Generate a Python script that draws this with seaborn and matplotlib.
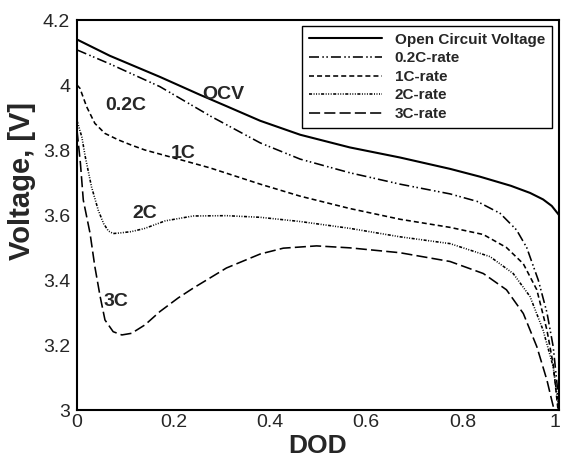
import numpy as np
import matplotlib
matplotlib.use('Agg')
import matplotlib.pyplot as plt
import matplotlib.transforms as mtransforms
from matplotlib.ticker import MultipleLocator
import seaborn as sns
import pandas as pd

sns.set_style('white')
plt.rcParams['font.family'] = ['Liberation Sans', 'DejaVu Sans']
plt.rcParams['lines.scale_dashes'] = False

# values
ocv_dod = [0, .068, .172, .255, .31, .38, .463, .566, .67, .774, .836, .9, .94, .967, .985, 1.0]
ocv_v = [4.14, 4.09, 4.025, 3.97, 3.935, 3.89, 3.847, 3.808, 3.777, 3.742, 3.718, 3.69, 3.668, 3.648, 3.628, 3.60]

c02_dod = [0, .068, .172, .276, .38, .463, .566, .67, .774, .83, .878, .912, .933, .957, .975, .988, .996, 1.0]
c02_v = [4.108, 4.065, 3.995, 3.905, 3.822, 3.772, 3.73, 3.695, 3.665, 3.642, 3.605, 3.554, 3.50, 3.40, 3.30, 3.195, 3.08, 3.0]

c1_dod = [0, .006, .02, .037, .058, .086, .113, .141, .22, .276, .38, .463, .566, .67, .774,
          .843, .891, .926, .954, .975, .988, .998]
c1_v = [4.0, 3.99, 3.933, 3.882, 3.851, 3.831, 3.815, 3.80, 3.768, 3.745, 3.695, 3.658, 3.62, 3.587, 3.562,
        3.54, 3.50, 3.45, 3.37, 3.246, 3.14, 3.0]

c2_dod = [0, .01, .017, .03, .044, .055, .065, .075, .09, .113, .141, .183, .241, .31, .38, .463, .566,
          .67, .774, .857, .905, .94, .967, .988, 1.0]
c2_v = [3.89, 3.84, 3.78, 3.687, 3.615, 3.574, 3.551, 3.543, 3.545, 3.549, 3.559, 3.582, 3.597, 3.598,
        3.593, 3.58, 3.559, 3.533, 3.512, 3.472, 3.42, 3.349, 3.246, 3.133, 3.0]

c3_dod = [0, .007, .013, .027, .037, .048, .058, .075, .093, .113, .141, .172, .21, .241, .31, .38, .428,
          .497, .566, .67, .774, .843, .891, .926, .954, .975, .985, .99]
c3_v = [3.86, 3.76, 3.646, 3.544, 3.441, 3.349, 3.277, 3.241, 3.231, 3.236, 3.262, 3.303, 3.345, 3.375,
        3.437, 3.48, 3.498, 3.505, 3.499, 3.484, 3.457, 3.42, 3.37, 3.297, 3.195, 3.092, 3.03, 3.0]

labels = ['Open Circuit Voltage', '0.2C-rate', '1C-rate', '2C-rate', '3C-rate']
curve_labels = ['OCV', '0.2C', '1C', '2C', '3C']
label_x = [0.303, 0.101, 0.22, 0.141, 0.08]
label_y = [3.972, 3.937, 3.79, 3.605, 3.333]

xticks = [0, 0.2, 0.4, 0.6, 0.8, 1.0]
xticklabels = ['0', '0.2', '0.4', '0.6', '0.8', '1']
yticks = [3.0, 3.2, 3.4, 3.6, 3.8, 4.0, 4.2]
yticklabels = ['3', '3.2', '3.4', '3.6', '3.8', '4', '4.2']

curves = [(ocv_dod, ocv_v), (c02_dod, c02_v), (c1_dod, c1_v), (c2_dod, c2_v), (c3_dod, c3_v)]
styles = ['-',
          (0, (7.2, 2.4, 1.1, 1.8, 1.1, 2.2)),
          (0, (3.6, 2.2)),
          (0, (2.2, 1.1, 0.7, 1.1, 0.7, 1.1, 0.7, 1.1)),
          (0, (8, 3))]
widths = [1.5, 1.15, 1.15, 1.15, 1.15]

fig = plt.figure(figsize=(5.61, 4.57), dpi=100)
ax = fig.add_axes([0.1373, 0.1028, 0.8591, 0.8534])

for (d, v), lab, ls, lw in zip(curves, labels, styles, widths):
    df = pd.DataFrame({'DOD': d, 'V': v})
    sns.lineplot(data=df, x='DOD', y='V', ax=ax, color='black', linestyle=ls, linewidth=lw,
                 label=lab, sort=False, estimator=None)

for t, x, y in zip(curve_labels, label_x, label_y):
    ax.text(x, y, t, ha='center', va='center', fontsize=14, fontweight='bold')

ax.set_xlim(0, 1)
ax.set_ylim(3, 4.2)
ax.set_xticks(xticks)
ax.set_xticklabels(xticklabels)
ax.set_yticks(yticks)
ax.set_yticklabels(yticklabels)
ax.xaxis.set_minor_locator(MultipleLocator(0.05))
ax.yaxis.set_minor_locator(MultipleLocator(0.05))
ax.tick_params(which='both', direction='in', color='black', labelsize=14, width=0.8)
ax.tick_params(which='major', length=7.2)
ax.tick_params(which='minor', length=3.6)
ax.tick_params(axis='x', pad=3)
ax.tick_params(axis='y', pad=5)
for s in ax.spines.values():
    s.set_linewidth(1.5)
    s.set_color('black')

# nudge the last x tick label so it stays inside the figure
last = ax.get_xticklabels()[-1]
last.set_transform(last.get_transform() + mtransforms.ScaledTranslation(-4 / 100, 0, fig.dpi_scale_trans))

ax.set_xlabel('DOD', fontsize=19, fontweight='bold', labelpad=2)
ax.set_ylabel('Voltage, [V]', fontsize=21, fontweight='bold')
ax.yaxis.set_label_coords(-0.085, 0.586)

leg = ax.legend(loc='upper right', bbox_to_anchor=(0.9855, 0.985), borderaxespad=0,
                prop={'size': 11, 'weight': 'bold'}, handlelength=4.8, handletextpad=0.85,
                labelspacing=0.3, borderpad=0.45, fancybox=False, framealpha=1)
leg.get_frame().set_edgecolor('black')
leg.get_frame().set_linewidth(1.0)

plt.savefig('out.png', dpi=100)
